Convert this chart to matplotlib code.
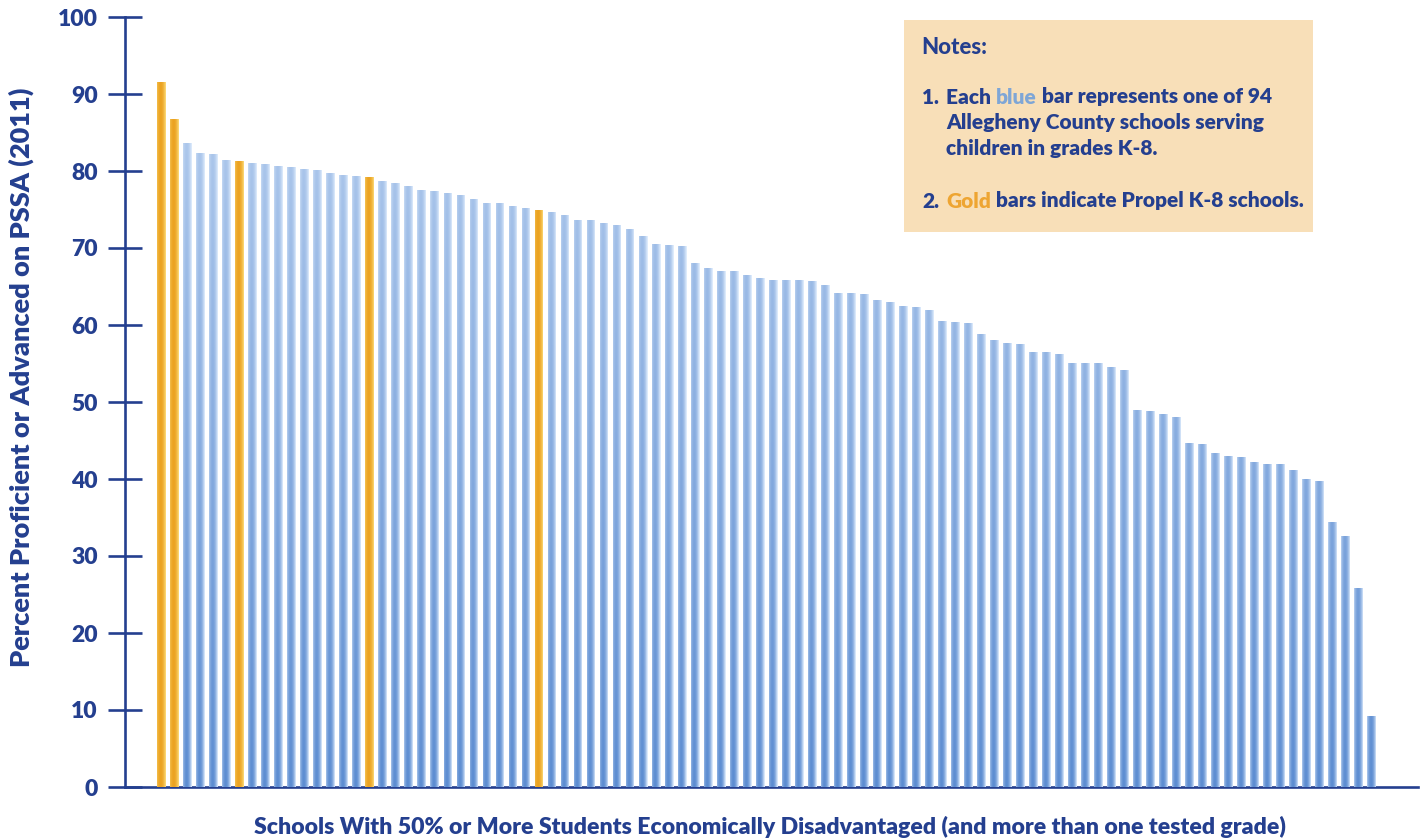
import matplotlib
matplotlib.use('Agg')
import matplotlib.pyplot as plt
import numpy as np
from matplotlib.path import Path
from matplotlib.patches import PathPatch, Rectangle

# percent proficient or advanced, one bar per school, sorted high to low
scores = [91.6, 86.7, 83.6, 82.3, 82.2, 81.4, 81.3, 81.0, 80.9, 80.6,
          80.5, 80.3, 80.1, 79.7, 79.5, 79.3, 79.2, 78.7, 78.5, 78.0,
          77.5, 77.4, 77.2, 76.9, 76.3, 75.9, 75.9, 75.4, 75.2, 74.9,
          74.7, 74.3, 73.7, 73.6, 73.3, 73.0, 72.5, 71.5, 70.5, 70.4,
          70.3, 68.0, 67.4, 67.0, 67.0, 66.5, 66.1, 65.9, 65.8, 65.8,
          65.7, 65.2, 64.1, 64.1, 64.0, 63.3, 63.0, 62.5, 62.3, 61.9,
          60.5, 60.4, 60.2, 58.8, 58.1, 57.6, 57.5, 56.5, 56.5, 56.2,
          55.1, 55.1, 55.1, 54.5, 54.1, 49.0, 48.8, 48.4, 48.0, 44.7,
          44.6, 43.4, 43.0, 42.8, 42.2, 42.0, 41.9, 41.2, 40.0, 39.8,
          34.4, 32.6, 25.8, 9.2]
propel = [0, 1, 6, 16, 29]   # positions of the Propel (gold) schools
yticks = list(range(0, 101, 10))

navy = '#243f8f'
blue_txt = '#7fa6d6'
gold_txt = '#eea532'
W, H = 1421, 839


def px(x, y):
    return x / W, 1 - y / H


fig = plt.figure(figsize=(W / 100, H / 100), dpi=100)
ax = fig.add_axes([125 / W, 1 - 787 / H, (1418 - 125) / W, (787 - 17) / H])

x = np.arange(len(scores))
is_gold = np.isin(x, propel)
bw = 0.68
bars = ax.bar(x, scores, width=bw, color=np.where(is_gold, '#eba320', '#8fb3e6'),
              linewidth=0, zorder=2)


def shaded(rects, light, dark, vert):
    # horizontal "tube" shading inside each bar, clipped to the bar shapes
    ncol = len(scores) * 30
    xs = np.linspace(-0.5, len(scores) - 0.5, ncol)
    frac = xs - np.round(xs)
    u = frac / (bw / 2)
    h = np.clip(1 - ((u + 0.25) / 1.15) ** 2, 0, 1)
    ys = np.linspace(0, 100, 200)
    v = vert(ys)
    d = (v[:, None] * h[None, :])[..., None]
    img = np.array(light)[None, None, :] * (1 - d) + np.array(dark)[None, None, :] * d
    im = ax.imshow(img, extent=[-0.5, len(scores) - 0.5, 0, 100], origin='lower',
                   aspect='auto', interpolation='bilinear', zorder=3)
    paths = [r.get_path().transformed(r.get_patch_transform()) for r in rects]
    clip = PathPatch(Path.make_compound_path(*paths), transform=ax.transData,
                     facecolor='none', edgecolor='none')
    im.set_clip_path(clip)


blue_rects = [b for b, g in zip(bars, is_gold) if not g]
gold_rects = [b for b, g in zip(bars, is_gold) if g]
shaded(blue_rects, (0.88, 0.93, 0.99), (0.36, 0.55, 0.82),
       lambda y: 0.28 + 0.72 * (1 - y / 100))
shaded(gold_rects, (0.99, 0.86, 0.48), (0.91, 0.60, 0.07),
       lambda y: 0.85 + 0 * y)

ax.set_xlim(-2.82, 96.56)
ax.set_ylim(0, 100)
ax.set_yticks(yticks)
ax.set_xticks([])
for s in ['top', 'right']:
    ax.spines[s].set_visible(False)
for s in ['left', 'bottom']:
    ax.spines[s].set_color(navy)
    ax.spines[s].set_linewidth(1.9)
ax.tick_params(axis='y', direction='inout', length=25, width=1.9, color=navy,
               labelsize=16.5, labelcolor=navy, pad=7)
for lab in ax.get_yticklabels():
    lab.set_fontfamily('Lato')
    lab.set_fontweight('heavy')

font = dict(family='Lato', fontweight='heavy', color=navy)
fig.text(*px(21, 377), 'Percent Proficient or Advanced on PSSA (2011)',
         rotation=90, ha='center', va='center', fontsize=19.5, **font)
fig.text(*px(770, 827),
         'Schools With 50% or More Students Economically Disadvantaged (and more than one tested grade)',
         ha='center', va='center', fontsize=16.6, **font)

# notes box
fig.add_artist(Rectangle(px(904, 232), 409 / W, 212 / H, transform=fig.transFigure,
                         facecolor='#f8dfb8', edgecolor='none', zorder=1))

renderer = fig.canvas.get_renderer()
nfs = 15


def rich(xp, yp, parts):
    xx = xp
    for s, c in parts:
        t = fig.text(*px(xx, yp), s, ha='left', va='center', fontsize=nfs,
                     family='Lato', fontweight='heavy', color=c, zorder=4)
        xx += t.get_window_extent(renderer).width


fig.text(*px(921, 47), 'Notes:', ha='left', va='center', fontsize=16,
         family='Lato', fontweight='black', color=navy, zorder=4)
fig.text(*px(922, 97), '1.', ha='left', va='center', fontsize=nfs, zorder=4, **font)
rich(946, 97, [('Each ', navy), ('blue', blue_txt), (' bar represents one of 94', navy)])
rich(946, 123, [('Allegheny County schools serving', navy)])
rich(946, 149, [('children in grades K-8.', navy)])
fig.text(*px(922, 201), '2.', ha='left', va='center', fontsize=nfs, zorder=4, **font)
rich(946, 201, [('Gold', gold_txt), (' bars indicate Propel K-8 schools.', navy)])

fig.savefig('out.png', dpi=100)
